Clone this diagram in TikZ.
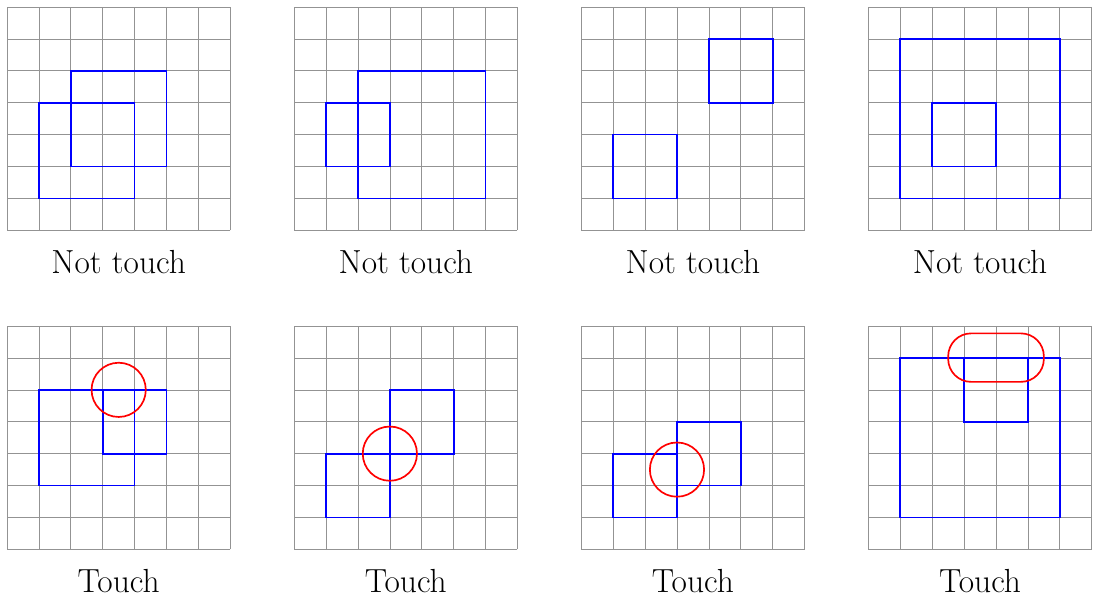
\documentclass[tikz,border=0pt]{standalone}
\begin{document}
\begin{tikzpicture}[x=1cm,y=1cm,
  gridline/.style={gray!85,line width=0.6pt},
  box/.style={blue,line width=1.5pt},
  touchmark/.style={red,line width=1.5pt},
  caption/.style={anchor=base,font=\fontsize{29.8}{35}\selectfont}]
\useasboundingbox (-0.22,-1.66) rectangle (34.04,17.22);
% grids
\foreach \i in {0,1,2,3}{
  \draw[gridline] (9*\i,10) grid (9*\i+7,17);
  \draw[gridline] (9*\i,0) grid (9*\i+7,7);
}
% top row
\begin{scope}[shift={(0,10)}]
  \draw[box] (1,1) rectangle (4,4);
  \draw[box] (2,2) rectangle (5,5);
  \node[caption] (c1) at (3.5,-1.36) {Not touch};
\end{scope}
\begin{scope}[shift={(9,10)}]
  \draw[box] (1,2) rectangle (3,4);
  \draw[box] (2,1) rectangle (6,5);
  \node[caption] (c2) at (3.5,-1.36) {Not touch};
\end{scope}
\begin{scope}[shift={(18,10)}]
  \draw[box] (1,1) rectangle (3,3);
  \draw[box] (4,4) rectangle (6,6);
  \node[caption] (c3) at (3.5,-1.36) {Not touch};
\end{scope}
\begin{scope}[shift={(27,10)}]
  \draw[box] (1,1) rectangle (6,6);
  \draw[box] (2,2) rectangle (4,4);
  \node[caption] (c4) at (3.5,-1.36) {Not touch};
\end{scope}
% bottom row
\begin{scope}[shift={(0,0)}]
  \draw[box] (1,2) rectangle (4,5);
  \draw[box] (3,3) rectangle (5,5);
  \draw[touchmark] (3.5,5) circle (0.85);
  \node[caption] (c5) at (3.5,-1.36) {Touch};
\end{scope}
\begin{scope}[shift={(9,0)}]
  \draw[box] (1,1) rectangle (3,3);
  \draw[box] (3,3) rectangle (5,5);
  \draw[touchmark] (3,3) circle (0.85);
  \node[caption] (c6) at (3.5,-1.36) {Touch};
\end{scope}
\begin{scope}[shift={(18,0)}]
  \draw[box] (1,1) rectangle (3,3);
  \draw[box] (3,2) rectangle (5,4);
  \draw[touchmark] (3,2.5) circle (0.85);
  \node[caption] (c7) at (3.5,-1.36) {Touch};
\end{scope}
\begin{scope}[shift={(27,0)}]
  \draw[box] (1,1) rectangle (6,6);
  \draw[box] (3,4) rectangle (5,6);
  \draw[touchmark,rounded corners=0.72cm] (2.5,5.25) rectangle (5.5,6.77);
  \node[caption] (c8) at (3.5,-1.36) {Touch};
\end{scope}
\end{tikzpicture}
\end{document}
